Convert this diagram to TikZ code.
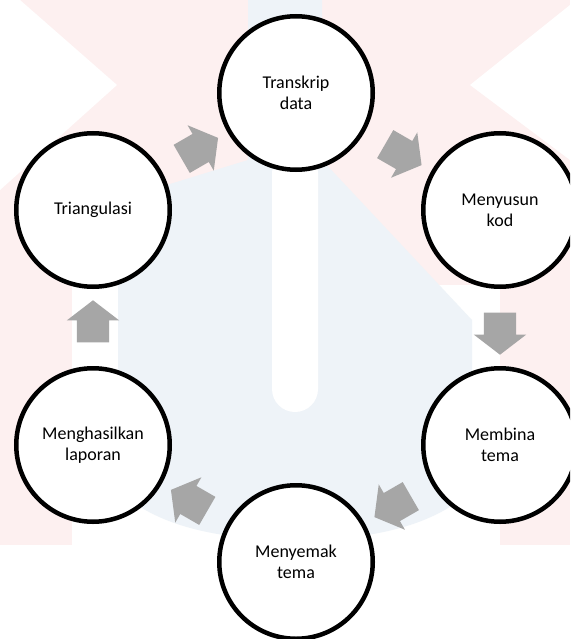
\documentclass[tikz,border=0pt]{standalone}
\usepackage{fontspec}
\setmainfont{Carlito}
\usetikzlibrary{arrows,calc,shapes.arrows}
\definecolor{ArrowClr}{RGB}{166,166,166}
\definecolor{PinkClr}{RGB}{253,240,240}
\definecolor{BlueClr}{RGB}{238,243,248}

\begin{document}
\begin{tikzpicture}[x=1pt,y=-1pt,
  stage/.style={circle,draw=black,line width=4.5pt,fill=white,minimum size=153.5pt,
    inner sep=0pt,align=center,font=\fontsize{18}{21}\selectfont},
  flowarrow/.style={single arrow,fill=ArrowClr,draw=none,inner xsep=0pt,inner ysep=16pt,
    outer sep=0pt,minimum height=42pt,single arrow head extend=10pt,
    single arrow tip angle=105}]
\clip (0,0) rectangle (570,639);

% watermark
\fill[PinkClr] (0,0) rectangle (570,545);
\fill[white] (0,0) -- (20,0) -- (117,85) -- (0,190) -- cycle;
\fill[white] (570,0) -- (570,5) -- (470,85) -- (570,160) -- cycle;
\fill[white] (72,285) rectangle (500,560);
\fill[BlueClr] (248,0) -- (322,0) -- (322,160) -- (472,320) -- (472,490)
  .. controls (430,530) and (360,540) .. (297,540)
  .. controls (230,540) and (160,530) .. (118,490) -- (118,200) -- (248,160) -- cycle;
\fill[white,rounded corners=23pt] (272,150) -- (272,412) -- (318,412) -- (318,150) -- cycle;

\node[stage] (top) at (296,93) {Transkrip\\data};
\node[stage] (tr) at (500,210) {Menyusun\\kod};
\node[stage] (br) at (500,445) {Membina\\tema};
\node[stage] (bot) at (296,562) {Menyemak\\tema};
\node[stage] (bl) at (93,445) {Menghasilkan\\laporan};
\node[stage] (tl) at (93,210) {Triangulasi};

\foreach \a/\b/\r in {tl/top/30,top/tr/-30,tr/br/-90,br/bot/210,bot/bl/150,bl/tl/90}
  \node[flowarrow,rotate=\r] (arr-\a) at ($(\a)!0.5!(\b)$) {};

\end{tikzpicture}
\end{document}
